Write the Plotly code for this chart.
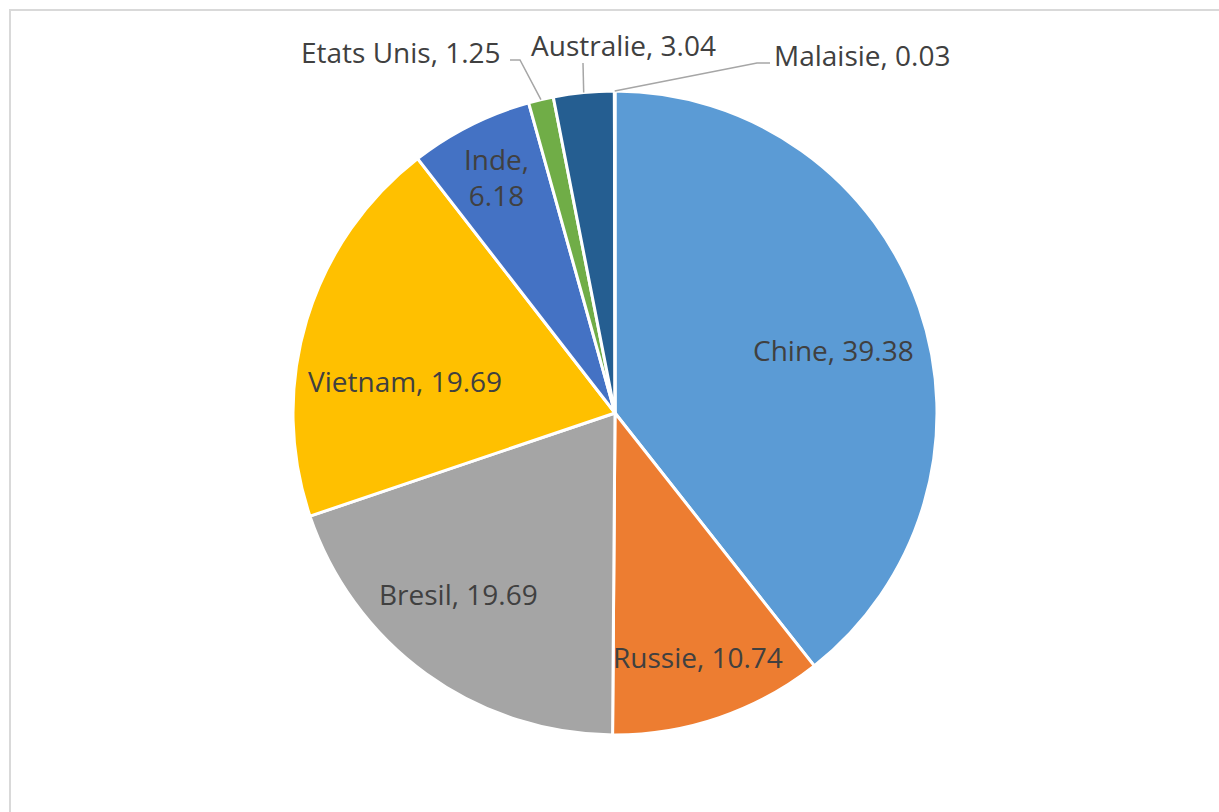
import math
import plotly.graph_objects as go

# ---- data ----
countries = ["Chine", "Russie", "Bresil", "Vietnam", "Inde", "Etats Unis", "Australie", "Malaisie"]
values = [39.38, 10.74, 19.69, 19.69, 6.18, 1.25, 3.04, 0.03]
colors = ["#5B9BD5", "#ED7D31", "#A5A5A5", "#FFC000", "#4472C4", "#70AD47", "#255E91", "#9E480E"]

# ---- layout constants (pixels) ----
W, H = 1219, 812
CX, CY, R = 615, 413, 322
FONT = "Open Sans"
FSIZE = 28
TXT = "#404040"
LINE = "#A6A6A6"


def px(x):
    return x / W


def py(y):
    return 1 - y / H


def edge_point(angle_deg, f=1.0):
    a = math.radians(angle_deg)
    return CX + f * R * math.sin(a), CY - f * R * math.cos(a)


total = sum(values)
mids = []
cum = 0.0
for v in values:
    mids.append((cum + v / 2) / total * 360.0)
    cum += v

fig = go.Figure(
    go.Pie(
        labels=countries,
        values=values,
        sort=False,
        direction="clockwise",
        rotation=0,
        marker=dict(colors=colors, line=dict(color="white", width=3)),
        textinfo="none",
        hoverinfo="label+value",
        showlegend=False,
        domain=dict(x=[px(CX - R), px(CX + R)], y=[py(CY + R), py(CY - R)]),
    )
)

annotations = []
shapes = []

# inside labels: (factor of radius, angle nudge)
inside = {
    "Chine": (0.705, 3),
    "Russie": (0.80, 0),
    "Bresil": (0.742, 5),
    "Vietnam": (0.66, -8),
    "Inde": (0.82, 0),
}
for i, name in enumerate(countries):
    if name in inside:
        f, nudge = inside[name]
        x, y = edge_point(mids[i] + nudge, f)
        if name == "Inde":
            text = f"{name},<br>{values[i]:.2f}"
        else:
            text = f"{name}, {values[i]:.2f}"
        annotations.append(dict(
            x=px(x), y=py(y), xref="paper", yref="paper",
            text=text, showarrow=False, xanchor="center", yanchor="middle",
            font=dict(family=FONT, size=FSIZE, color=TXT),
        ))

# outside labels with leader lines: label anchor, elbow points
outside = {
    "Etats Unis": dict(tx=503, ty=52, xanchor="right", path=[(510, 60), (520, 60)]),
    "Australie": dict(tx=623, ty=45, xanchor="center", path=[(583, 63)]),
    "Malaisie": dict(tx=772, ty=55, xanchor="left", path=[(770, 63), (757, 63)]),
}
for i, name in enumerate(countries):
    if name in outside:
        o = outside[name]
        annotations.append(dict(
            x=px(o["tx"]), y=py(o["ty"]), xref="paper", yref="paper",
            text=f"{name}, {values[i]:.2f}", showarrow=False,
            xanchor=o["xanchor"], yanchor="middle",
            font=dict(family=FONT, size=FSIZE, color=TXT),
        ))
        ex, ey = edge_point(mids[i], 1.0)
        pts = o["path"] + [(ex, ey)]
        d = "M " + " L ".join(f"{px(a):.5f},{py(b):.5f}" for a, b in pts)
        shapes.append(dict(type="path", path=d, xref="paper", yref="paper",
                           line=dict(color=LINE, width=1.5)))

# chart border (Excel chart area frame)
shapes.append(dict(type="rect", xref="paper", yref="paper",
                   x0=px(10), x1=px(W + 20), y0=py(H + 20), y1=py(10),
                   line=dict(color="#D9D9D9", width=2), layer="below"))

fig.update_layout(
    width=W, height=H,
    margin=dict(l=0, r=0, t=0, b=0),
    paper_bgcolor="white",
    plot_bgcolor="white",
    annotations=annotations,
    shapes=shapes,
)

fig.write_html("out.html", config={"displayModeBar": False},
               post_script="document.body.style.margin='0';")
